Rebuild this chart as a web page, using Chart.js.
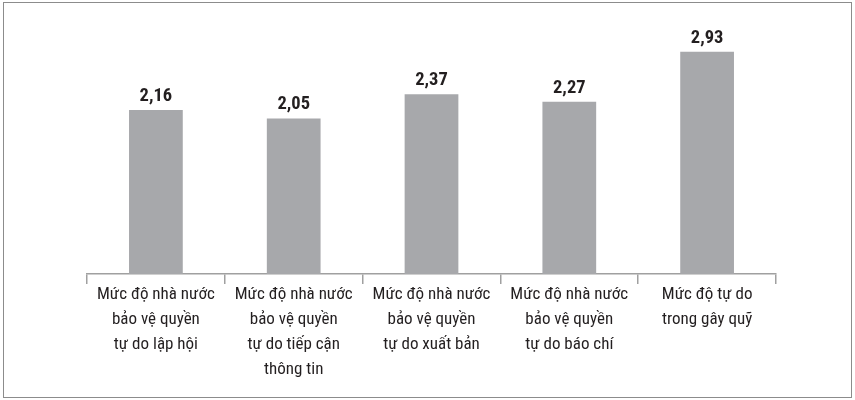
<!DOCTYPE html>
<html>
<head>
<meta charset="utf-8">
<script src="https://cdn.jsdelivr.net/npm/chart.js@4/dist/chart.umd.min.js"></script>
<style>
html,body{margin:0;padding:0;background:#fff;}
#wrap{position:absolute;left:3px;top:2px;width:847px;height:394px;border:1px solid #8c8c8c;}
#c{position:absolute;left:0;top:0;}
</style>
</head>
<body>
<div id="wrap"></div>
<canvas id="c" width="855" height="400"></canvas>
<script>
const categories = [
  ["Mức độ nhà nước","bảo vệ quyền","tự do lập hội"],
  ["Mức độ nhà nước","bảo vệ quyền","tự do tiếp cận","thông tin"],
  ["Mức độ nhà nước","bảo vệ quyền","tự do xuất bản"],
  ["Mức độ nhà nước","bảo vệ quyền","tự do báo chí"],
  ["Mức độ tự do","trong gây quỹ"]
];
const values = [2.16, 2.05, 2.37, 2.27, 2.93];
const valueLabels = ["2,16","2,05","2,37","2,27","2,93"];

const FONT = "'Roboto Condensed','DejaVu Sans Condensed',sans-serif";

const valuePlugin = {
  id: 'valueLabels',
  afterDatasetsDraw(chart) {
    const ctx = chart.ctx;
    const meta = chart.getDatasetMeta(0);
    ctx.save();
    ctx.font = "bold 18.5px " + FONT;
    ctx.fillStyle = "#231f20";
    ctx.textAlign = "center";
    ctx.textBaseline = "alphabetic";
    meta.data.forEach((bar, i) => {
      ctx.fillText(valueLabels[i], bar.x, bar.y - 9);
    });
    ctx.restore();
  }
};

new Chart(document.getElementById('c'), {
  type: 'bar',
  data: {
    labels: categories,
    datasets: [{
      data: values,
      backgroundColor: '#a7a8ab',
      borderWidth: 0,
      barPercentage: 0.39,
      categoryPercentage: 1.0
    }]
  },
  options: {
    responsive: false,
    animation: false,
    events: [],
    layout: { padding: { left: 87, right: 79, top: 16, bottom: 20 } },
    plugins: { legend: { display: false }, tooltip: { enabled: false } },
    scales: {
      x: {
        offset: true,
        grid: {
          offset: true,
          drawOnChartArea: false,
          drawTicks: true,
          tickLength: 10,
          color: '#a0a0a0',
          lineWidth: 1.5
        },
        border: { display: true, color: '#a0a0a0', width: 1.5 },
        ticks: {
          color: '#231f20',
          font: { family: FONT, size: 17, lineHeight: 1.47 },
          padding: -2,
          maxRotation: 0,
          autoSkip: false
        }
      },
      y: {
        display: false,
        min: 0,
        max: 3.4
      }
    }
  },
  plugins: [valuePlugin]
});
</script>
</body>
</html>
